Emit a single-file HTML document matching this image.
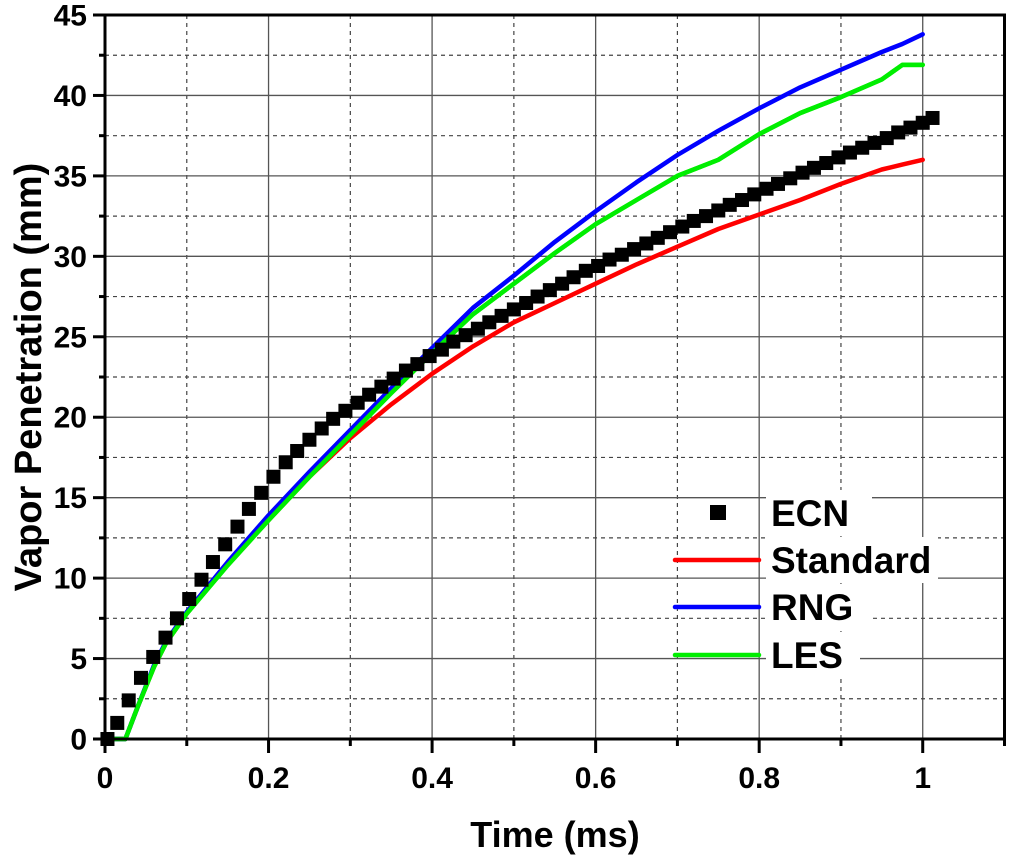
<!DOCTYPE html>
<html><head><meta charset="utf-8"><style>
html,body{margin:0;padding:0;background:#fff;}
svg{display:block;font-family:"Liberation Sans",Arial,sans-serif;font-weight:bold;}
</style></head><body>
<svg id="chart" width="1009" height="860" viewBox="0 0 1009 860" xmlns="http://www.w3.org/2000/svg">
<g id="grid"></g>
<g id="series"></g>
<g id="axes"></g>
<g id="legend"></g>
<text x="555" y="847" font-size="36" text-anchor="middle">Time (ms)</text>
<text transform="translate(41,377) rotate(-90)" font-size="38" text-anchor="middle">Vapor Penetration (mm)</text>
</svg>
<script>
const xTicks=[0,0.2,0.4,0.6,0.8,1];
const xTickLabels=["0","0.2","0.4","0.6","0.8","1"];
const yTicks=[0,5,10,15,20,25,30,35,40,45];
const yTickLabels=["0","5","10","15","20","25","30","35","40","45"];
const ecnX=[0.003,0.015,0.029,0.044,0.059,0.074,0.088,0.103,0.118,0.132,0.147,0.162,0.176,0.191,0.206,0.221,0.235,0.250,0.265,0.279,0.294,0.309,0.323,0.338,0.353,0.368,0.382,0.397,0.412,0.426,0.441,0.456,0.470,0.485,0.500,0.515,0.529,0.544,0.559,0.573,0.588,0.603,0.617,0.632,0.647,0.662,0.676,0.691,0.706,0.720,0.735,0.750,0.764,0.779,0.794,0.809,0.823,0.838,0.853,0.867,0.882,0.897,0.911,0.926,0.941,0.956,0.970,0.985,1.000,1.012];
const ecnY=[0,1.0,2.4,3.8,5.1,6.3,7.5,8.7,9.9,11.0,12.1,13.2,14.3,15.3,16.3,17.2,17.9,18.6,19.3,19.9,20.4,20.9,21.4,21.9,22.4,22.9,23.3,23.8,24.2,24.7,25.1,25.5,25.9,26.3,26.7,27.1,27.5,27.9,28.3,28.7,29.1,29.4,29.8,30.1,30.45,30.8,31.15,31.5,31.85,32.2,32.5,32.85,33.2,33.5,33.85,34.2,34.5,34.85,35.2,35.5,35.8,36.15,36.45,36.75,37.05,37.35,37.7,38.0,38.3,38.6];
const lineX=[0.005,0.025,0.04,0.06,0.075,0.1,0.15,0.2,0.25,0.3,0.35,0.4,0.45,0.5,0.55,0.6,0.65,0.7,0.75,0.8,0.85,0.9,0.95,0.975,1.0];
const standardY=[0,0,2,4.5,6.0,7.8,10.9,13.6,16.3,18.7,20.8,22.7,24.4,25.9,27.1,28.3,29.5,30.6,31.7,32.6,33.5,34.5,35.4,35.7,36.0];
const rngY=[0,0,2,4.6,6.1,7.9,11.0,13.9,16.6,19.2,21.8,24.3,26.8,28.8,30.9,32.8,34.6,36.3,37.8,39.2,40.5,41.6,42.7,43.2,43.8];
const lesY=[0,0,2,4.5,6.0,7.8,10.8,13.6,16.3,18.9,21.5,24.0,26.4,28.3,30.2,32.0,33.5,35.0,36.0,37.6,38.9,39.9,41.0,41.9,41.9];
const seriesNames=["ECN","Standard","RNG","LES"];

const NS="http://www.w3.org/2000/svg";
const X0=105,X1=1004.5,Y0=739,Y1=15;
function sx(v){return X0+v/1.1*(X1-X0);}
function sy(v){return Y0-v/45*(Y0-Y1);}
function mk(tag,attrs,parent){const e=document.createElementNS(NS,tag);for(const k in attrs)e.setAttribute(k,attrs[k]);parent.appendChild(e);return e;}
const grid=document.getElementById('grid'),axes=document.getElementById('axes'),series=document.getElementById('series'),legend=document.getElementById('legend');

for(let i=1;i<=10;i++){const v=i*0.1;const major=i%2===0;
 const l=mk('line',{x1:sx(v),x2:sx(v),y1:Y0,y2:Y1,stroke:major?'#555':'#444','stroke-width':major?1.3:1.2,'stroke-dasharray':major?'none':'4,4'},grid);
 
 }
for(let i=1;i<18;i++){const v=i*2.5;const major=i%2===0;
 const l=mk('line',{x1:X0,x2:X1,y1:sy(v),y2:sy(v),stroke:major?'#555':'#444','stroke-width':major?1.3:1.2,'stroke-dasharray':major?'none':'4,4'},grid);
 
 }

function path(xs,ys,color,name){let d='';xs.forEach((x,i)=>{d+=(i?'L':'M')+sx(x).toFixed(1)+','+sy(ys[i]).toFixed(1);});
 const p=mk('path',{d:d,fill:'none',stroke:color,'stroke-width':4.5,'stroke-linejoin':'round','stroke-linecap':'round'},series);
 
 }
path(lineX,standardY,'#ff0000','standard-line');
path(lineX,lesY,'#00ee00','les-line');
path(lineX,rngY,'#0000ff','rng-line');
path(lineX,lesY,'#00ee00','les-line-top');
ecnX.forEach((x,i)=>{const r=mk('rect',{x:sx(x)-7,y:sy(ecnY[i])-7,width:14,height:14,fill:'#000'},series);
 
 });

mk('rect',{x:X0,y:Y1,width:X1-X0,height:Y0-Y1,fill:'none',stroke:'#000','stroke-width':3},axes);
for(let i=0;i<=11;i++){const v=i*0.1;const major=i%2===0;
 mk('line',{x1:sx(v),x2:sx(v),y1:Y0,y2:Y0+(major?14:7),stroke:'#000','stroke-width':3},axes);}
for(let i=0;i<=18;i++){const v=i*2.5;const major=i%2===0;
 mk('line',{x1:X0,x2:X0-(major?12:6),y1:sy(v),y2:sy(v),stroke:'#000','stroke-width':3},axes);}
xTicks.forEach((v,i)=>{const t=mk('text',{x:sx(v),y:788,'font-size':30,'text-anchor':'middle'},axes);t.textContent=xTickLabels[i];
 
 });
yTicks.forEach((v,i)=>{const t=mk('text',{x:87,y:sy(v)+10.5,'font-size':30,'text-anchor':'end'},axes);t.textContent=yTickLabels[i];
 
 });

const ly=[513,560,607,655];const widths=[98,164,98,86];
const colors=[null,'#ff0000','#0000ff','#00ee00'];
seriesNames.forEach((n,i)=>{
 const g=mk('g',{},legend);
 
 
 mk('rect',{x:766,y:ly[i]-23,width:widths[i]+8,height:46,fill:'#fff'},g);
 if(i===0){mk('rect',{x:710,y:ly[i]-8,width:16,height:15,fill:'#000'},g);}
 else{mk('line',{x1:675,x2:759,y1:ly[i],y2:ly[i],stroke:colors[i],'stroke-width':4.5,'stroke-linecap':'round'},g);}
 const t=mk('text',{x:771,y:ly[i]+13,'font-size':37},g);t.textContent=n;
});
</script>
</body></html>
